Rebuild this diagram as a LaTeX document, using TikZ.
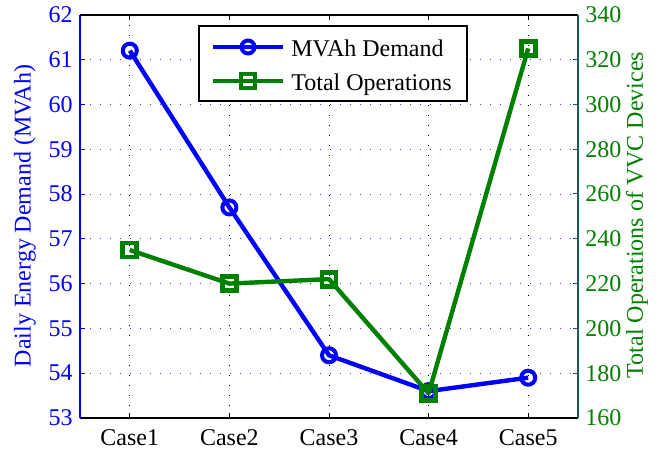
\documentclass[tikz,border=0pt]{standalone}
\usepackage{fontspec}
\setmainfont{Liberation Serif}
\usetikzlibrary{calc}
\definecolor{opgreen}{rgb}{0,0.5,0}
\definecolor{axteal}{rgb}{0.1,0.36,0.35}
\tikzset{
	gridline/.style={line width=0.5pt,dash pattern=on 0.5pt off 4.5pt},
	dataline/.style={line width=2.2pt,line join=round},
	ticklabel/.style={inner sep=0pt,font=\fontsize{12}{14}\selectfont},
	axislabel/.style={inner sep=0pt,rotate=90,font=\fontsize{12}{14}\selectfont},
}
\begin{document}
\begin{tikzpicture}[x=0.5pt,y=-0.5pt]
					\useasboundingbox (0,0) rectangle (662,454);
					\coordinate (TL) at (80,15); \coordinate (TR) at (578,15);
					\coordinate (BL) at (80,418); \coordinate (BR) at (578,418);
					\foreach \v in {54,...,61} \draw[gridline,blue!75] (80,{418-(\v-53)*44.8}) -- (578,{418-(\v-53)*44.8});
					\foreach \i in {1,...,5} \draw[gridline,black] ({80+(\i-0.5)*99.6},15) -- ({80+(\i-0.5)*99.6},418);
					\foreach \v in {53,...,62} {
						\draw[blue,line width=0.5pt] (80,{418-(\v-53)*44.8}) -- (85,{418-(\v-53)*44.8});
						\node[ticklabel,blue,anchor=east] (l\v) at (73,{418-(\v-53)*44.8}) {\v};
					}
					\foreach \w in {160,180,...,340} {
						\draw[axteal,line width=0.5pt] (578,{418-(\w-160)*2.24}) -- (573,{418-(\w-160)*2.24});
						\node[ticklabel,opgreen,anchor=west] (r\w) at (585,{418-(\w-160)*2.24}) {\w};
					}
					\foreach \i in {1,...,5} {
						\draw[line width=0.5pt] ({80+(\i-0.5)*99.6},418) -- ({80+(\i-0.5)*99.6},413);
						\draw[line width=0.5pt] ({80+(\i-0.5)*99.6},15) -- ({80+(\i-0.5)*99.6},20);
						\node[ticklabel,anchor=base] (c\i) at ({80+(\i-0.5)*99.6},445) {Case\i};
					}
					\draw[line width=0.6pt] (TL) -- (TR); \draw[line width=0.6pt] (BL) -- (BR);
					\draw[blue,line width=0.6pt] (TL) -- (BL); \draw[axteal,line width=0.6pt] (TR) -- (BR);
					\node[axislabel,blue] (ylab) at (25,216) {Daily Energy Demand (MVAh)};
					\node[axislabel,opgreen] (rlab) at (637,215) {Total Operations of VVC Devices};
					\foreach \i/\v in {1/61.2,2/57.7,3/54.4,4/53.6,5/53.9} \coordinate (m\i) at ({80+(\i-0.5)*99.6},{418-(\v-53)*44.8});
					\foreach \i/\w in {1/235,2/220,3/222,4/171,5/325} \coordinate (t\i) at ({80+(\i-0.5)*99.6},{418-(\w-160)*2.24});
					\draw[dataline,blue] (m1)--(m2)--(m3)--(m4)--(m5);
					\foreach \i in {1,...,5} \draw[blue,line width=2pt] (m\i) circle[radius=7];
					\draw[dataline,opgreen] (t1)--(t2)--(t3)--(t4)--(t5);
					\foreach \i in {1,...,5} \draw[opgreen,line width=2.4pt] ($(t\i)+(-7,-7)$) rectangle ($(t\i)+(7,7)$);
					\node[draw,fill=white,line width=0.6pt,minimum width=134pt,minimum height=37.5pt,inner sep=0pt] (legend) at (333,63.5) {};
					\coordinate (la) at (213,47); \coordinate (lb) at (283,47);
					\coordinate (lc) at (213,81); \coordinate (ld) at (283,81);
					\draw[dataline,blue] (la) -- (lb); \draw[blue,line width=2pt] ($(la)!0.5!(lb)$) circle[radius=6.5];
					\draw[dataline,opgreen] (lc) -- (ld); \draw[opgreen,line width=2.4pt] ($($(lc)!0.5!(ld)$)+(-7,-7)$) rectangle ($($(lc)!0.5!(ld)$)+(7,7)$);
					\node[ticklabel,anchor=base west] (lt1) at (291,57) {MVAh Demand};
					\node[ticklabel,anchor=base west] (lt2) at (291,91) {Total Operations};
				\end{tikzpicture}
\end{document}
